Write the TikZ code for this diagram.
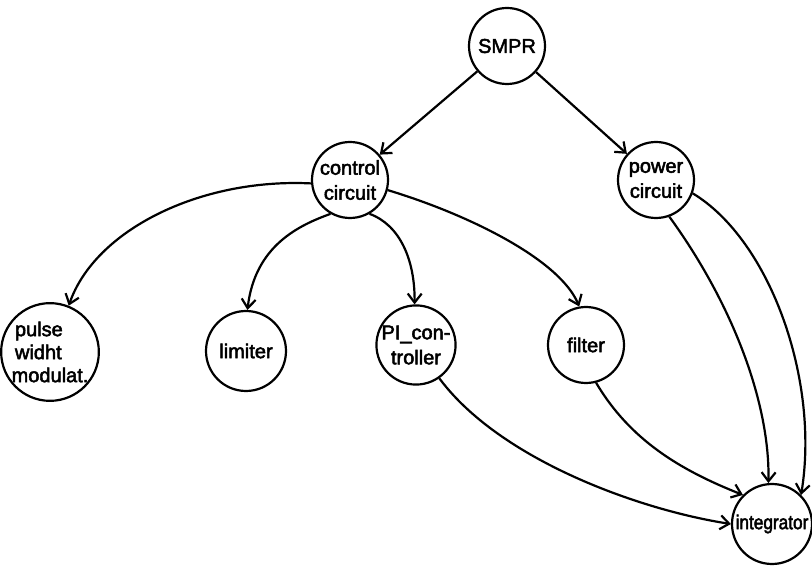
\documentclass[tikz,border=0pt]{standalone}
\usepackage{fontspec}
\setmainfont{Liberation Sans}
\newfontfamily\labelfont[FakeBold=2.5]{Liberation Sans}
\usetikzlibrary{arrows.meta}
\begin{document}
\begin{tikzpicture}[x=1pt,y=-1pt,
  state/.style={circle, draw, line width=2.2pt, minimum size=76pt, inner sep=0pt,
    align=center, font=\labelfont\fontsize{20}{25}\selectfont},
  edge/.style={line width=2.2pt,
    -{Straight Barb[length=9pt,width=14pt,line width=2.2pt]}}]
\useasboundingbox (0,0) rectangle (812,569);

% nodes of the hierarchy
\node[state] (smpr)   at (507,46)  {SMPR};
\node[state] (ctrl)   at (350,180) {control\\circuit};
\node[state] (power)  at (656,180) {power\\circuit};
\node[state, minimum size=84pt, align=left] (pulse) at (50,352)
  {\,pulse\\[-2pt]\,widht\\[-2pt]modulat.};
\node[state, minimum size=80pt] (limiter) at (246,351) {limiter};
\node[state, minimum size=78pt] (pi)      at (416,345) {PI\_con-\\troller};
\node[state] (filter) at (586,345) {filter};
\node[state, minimum size=80pt] (integ)   at (772,524)
  {\scalebox{0.86}[1]{integrator}};

% decomposition edges
\draw[edge] (smpr) -- (ctrl);
\draw[edge] (smpr) -- (power);
\draw[edge] (ctrl.185) .. controls (200,178) and (95,230) .. (pulse.68);
\draw[edge] (ctrl.240) .. controls (300,225) and (255,245) .. (limiter.88);
\draw[edge] (ctrl.300) .. controls (400,225) and (415,260) .. (pi.92);
\draw[edge] (ctrl.345) .. controls (470,215) and (560,260) .. (filter.100);

% data flow into the integrator
\draw[edge] (pi.305) .. controls (500,460) and (640,510) .. (integ.180);
\draw[edge] (filter.285) .. controls (630,440) and (680,470) .. (integ.135);
\draw[edge] (power.290) .. controls (730,300) and (770,400) .. (integ.95);
\draw[edge] (power.340) .. controls (770,240) and (820,380) .. (integ.45);
\end{tikzpicture}
\end{document}
